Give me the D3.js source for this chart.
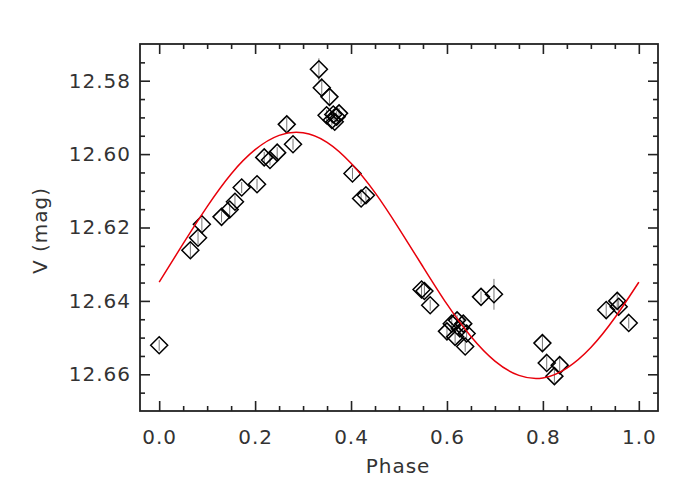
<!DOCTYPE html>
<html>
<head>
<meta charset="utf-8">
<script src="https://cdn.jsdelivr.net/npm/d3@7"></script>
<style>
  html, body { margin: 0; padding: 0; background: #fff; }
  svg { display: block; }
  text { font-family: "DejaVu Sans", sans-serif; fill: #333; }
</style>
</head>
<body>
<svg id="chart" width="700" height="500"></svg>
<script>
// ---- data ----
const phase = [0.000, 0.065, 0.081, 0.089, 0.130, 0.147, 0.158, 0.172, 0.204, 0.219,
  0.231, 0.246, 0.266, 0.279, 0.333, 0.339, 0.355, 0.349, 0.363, 0.370,
  0.360, 0.366, 0.375, 0.403, 0.421, 0.431, 0.547, 0.553, 0.565, 0.600,
  0.610, 0.621, 0.627, 0.634, 0.641, 0.617, 0.638, 0.671, 0.698, 0.799,
  0.808, 0.835, 0.824, 0.932, 0.955, 0.958, 0.979];
const vmag = [12.6521, 12.6262, 12.6228, 12.6191, 12.6171, 12.6151, 12.6130, 12.6091, 12.6082, 12.6009,
  12.6016, 12.5996, 12.5919, 12.5973, 12.5769, 12.5819, 12.5844, 12.5894, 12.5892, 12.5898,
  12.5907, 12.5912, 12.5889, 12.6053, 12.6121, 12.6112, 12.6369, 12.6373, 12.6412, 12.6483,
  12.6462, 12.6453, 12.6475, 12.6462, 12.6489, 12.6498, 12.6524, 12.6389, 12.6382, 12.6515,
  12.6569, 12.6575, 12.6605, 12.6425, 12.6400, 12.6416, 12.6460];
const verr = [0.0015, 0.0020, 0.0018, 0.0018, 0.0015, 0.0018, 0.0018, 0.0015, 0.0015, 0.0015,
  0.0015, 0.0015, 0.0018, 0.0015, 0.0030, 0.0025, 0.0025, 0.0015, 0.0015, 0.0015,
  0.0015, 0.0015, 0.0015, 0.0015, 0.0015, 0.0015, 0.0018, 0.0018, 0.0015, 0.0015,
  0.0018, 0.0015, 0.0015, 0.0015, 0.0015, 0.0018, 0.0015, 0.0015, 0.0042, 0.0025,
  0.0018, 0.0020, 0.0018, 0.0018, 0.0020, 0.0018, 0.0015];
// fitted curve
const fitPhase = [0.00, 0.05, 0.10, 0.15, 0.20, 0.25, 0.30, 0.35, 0.40, 0.45, 0.50,
  0.55, 0.60, 0.65, 0.70, 0.75, 0.80, 0.85, 0.90, 0.95, 1.00];
const fitMag = [12.6349, 12.6244, 12.6143, 12.6054, 12.5988, 12.5949, 12.5942, 12.5968, 12.6025, 12.6105, 12.6203,
  12.6307, 12.6409, 12.6497, 12.6564, 12.6603, 12.6610, 12.6583, 12.6527, 12.6446, 12.6349];
const xTicks = [0.0, 0.2, 0.4, 0.6, 0.8, 1.0];
const xMinor = [0.05, 0.1, 0.15, 0.25, 0.3, 0.35, 0.45, 0.5, 0.55, 0.65, 0.7, 0.75, 0.85, 0.9, 0.95];
const yTicks = [12.58, 12.60, 12.62, 12.64, 12.66];
const yMinor = [12.575, 12.585, 12.59, 12.595, 12.605, 12.61, 12.615, 12.625, 12.63, 12.635,
  12.645, 12.65, 12.655, 12.665];
const xTitle = "Phase";
const yTitle = "V (mag)";

// ---- layout ----
const L = 140, R = 658, T = 44, B = 411;
const svg = d3.select("#chart");
const x = d3.scaleLinear().domain([-0.04, 1.04]).range([L, R]);
const y = d3.scaleLinear().domain([12.57, 12.67]).range([T, B]);

const axisColor = "#222";
function tickAxis(axisFn, scale, ticks, size, transform) {
  const g = svg.append("g").attr("transform", transform)
    .call(axisFn(scale).tickValues(ticks).tickSize(size).tickSizeOuter(0).tickFormat(""));
  g.select(".domain").remove();
  g.selectAll(".tick line").attr("stroke", axisColor).attr("stroke-width", 1.6);
  return g;
}
// major and minor ticks on all four sides, pointing inward
tickAxis(d3.axisBottom, x, xTicks, -10, `translate(0,${B})`);
tickAxis(d3.axisBottom, x, xMinor, -5, `translate(0,${B})`);
tickAxis(d3.axisTop, x, xTicks, -10, `translate(0,${T})`);
tickAxis(d3.axisTop, x, xMinor, -5, `translate(0,${T})`);
tickAxis(d3.axisLeft, y, yTicks, -10, `translate(${L},0)`);
tickAxis(d3.axisLeft, y, yMinor, -5, `translate(${L},0)`);
tickAxis(d3.axisRight, y, yTicks, -10, `translate(${R},0)`);
tickAxis(d3.axisRight, y, yMinor, -5, `translate(${R},0)`);

// tick labels
const xl = svg.append("g").attr("transform", `translate(0,${B})`)
  .call(d3.axisBottom(x).tickValues(xTicks).tickSize(0).tickPadding(19).tickFormat(d3.format(".1f")));
xl.select(".domain").remove();
xl.selectAll("text").attr("font-size", 20).attr("letter-spacing", 1).attr("fill", "#333")
  .attr("font-family", "DejaVu Sans");
const yl = svg.append("g").attr("transform", `translate(${L},0)`)
  .call(d3.axisLeft(y).tickValues(yTicks).tickSize(0).tickPadding(9).tickFormat(d3.format(".2f")));
yl.select(".domain").remove();
yl.selectAll("text").attr("font-size", 20).attr("letter-spacing", 1).attr("fill", "#333")
  .attr("font-family", "DejaVu Sans");

// frame
svg.append("rect").attr("x", L).attr("y", T).attr("width", R - L).attr("height", B - T)
  .attr("fill", "none").attr("stroke", axisColor).attr("stroke-width", 1.8);

// titles
svg.append("text").attr("x", 398).attr("y", 473).attr("text-anchor", "middle")
  .attr("font-size", 20).attr("letter-spacing", 1).text(xTitle);
svg.append("text").attr("transform", `translate(47,${(T + B) / 2 + 3}) rotate(-90)`)
  .attr("text-anchor", "middle").attr("font-size", 20).attr("letter-spacing", 1).text(yTitle);

// data
const pts = phase.map((p, i) => ({ p, m: vmag[i], e: verr[i] }));
const plot = svg.append("g");
plot.selectAll("line.err").data(pts).enter().append("line").attr("class", "err")
  .attr("x1", d => x(d.p)).attr("x2", d => x(d.p))
  .attr("y1", d => y(d.m - d.e)).attr("y2", d => y(d.m + d.e))
  .attr("stroke", "#777").attr("stroke-width", 1);
const s = 8.5;
plot.selectAll("path.pt").data(pts).enter().append("path").attr("class", "pt")
  .attr("d", d => {
    const cx = x(d.p), cy = y(d.m);
    return `M${cx},${cy - s}L${cx + s},${cy}L${cx},${cy + s}L${cx - s},${cy}Z`;
  })
  .attr("fill", "none").attr("stroke", "#000").attr("stroke-width", 1.5);

// fitted curve
const line = d3.line().x((d, i) => x(fitPhase[i])).y(d => y(d)).curve(d3.curveNatural);
svg.append("path").datum(fitMag).attr("d", line)
  .attr("fill", "none").attr("stroke", "#e8000b").attr("stroke-width", 1.5);
</script>
</body>
</html>
